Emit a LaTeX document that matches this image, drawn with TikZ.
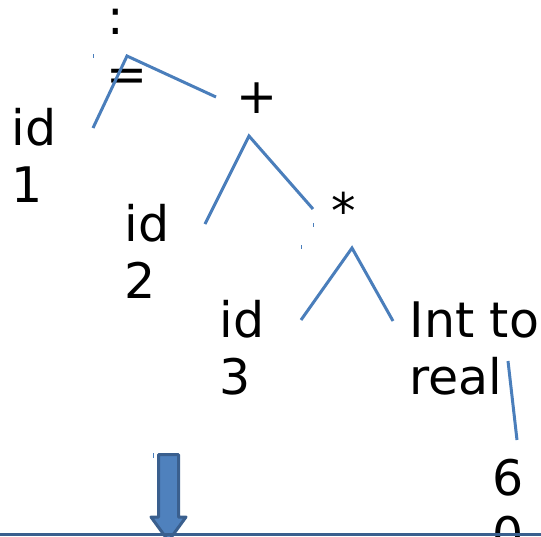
\documentclass[tikz,border=0pt]{standalone}
\usepackage{fontspec}
\setmainfont{DejaVu Sans}
\definecolor{edgeblue}{HTML}{4A7EBB}
\definecolor{arrowfill}{HTML}{4F81BD}
\definecolor{arrowline}{HTML}{3A5F8E}
\begin{document}
\begin{tikzpicture}[x=1pt,y=-1pt,
  txt/.style={anchor=base west, inner sep=0pt, font=\fontsize{49}{57}\selectfont},
  edge/.style={draw=edgeblue, line width=3pt},
  speck/.style={draw=edgeblue, line width=1pt}]
\useasboundingbox (0,0) rectangle (541,536);
\begin{scope}
\clip (0,0) rectangle (541,536);
% texts
\node[txt] (asg1) at (107,34) {:};
\node[txt] (asg2) at (106.5,91) {=};
\node[txt] (plus) at (236.5,113) {+};
\node[txt] (star) at (331.5,228) {*};
\node[txt] (ida) at (11.5,145) {id};
\node[txt] (idb) at (11.5,202) {1};
\node[txt] (idc) at (124.5,241) {id};
\node[txt] (idd) at (124.5,298) {2};
\node[txt] (ide) at (219.5,337) {id};
\node[txt] (idf) at (219.5,394) {3};
\node[txt] (inta) at (409.5,337) {Int to};
\node[txt] (intb) at (409.5,394) {real};
\node[txt] (sixa) at (492,495) {6};
\node[txt] (sixb) at (492,552) {0};
% edges
\coordinate (r0) at (127,56);
\coordinate (r1) at (93,128);
\coordinate (r2) at (216,97);
\coordinate (p0) at (249,136);
\coordinate (p1) at (205,224);
\coordinate (p2) at (313,209);
\coordinate (s0) at (352,248);
\coordinate (s1) at (301,320);
\coordinate (s2) at (393,321);
\coordinate (c0) at (508,361);
\coordinate (c1) at (517,440);
\draw[edge] (r1) -- (r0) -- (r2);
\draw[edge] (p1) -- (p0) -- (p2);
\draw[edge] (s1) -- (s0) -- (s2);
\draw[edge] (c0) -- (c1);
% specks
\coordinate (k1a) at (93.5,54); \coordinate (k1b) at (93.5,58);
\coordinate (k2a) at (313.5,223); \coordinate (k2b) at (313.5,227);
\coordinate (k3a) at (301.5,245); \coordinate (k3b) at (301.5,249);
\coordinate (k4a) at (153.5,453); \coordinate (k4b) at (153.5,458);
\draw[speck] (k1a) -- (k1b);
\draw[speck] (k2a) -- (k2b);
\draw[speck] (k3a) -- (k3b);
\draw[speck] (k4a) -- (k4b);
% down arrow
\draw[fill=arrowfill, draw=arrowline, line width=3pt, line join=round]
  (158.5,454.5) -- (178.5,454.5) -- (178.5,517) -- (186,517) -- (168.5,541)
  -- (151,517) -- (158.5,517) -- cycle;
% bottom line
\coordinate (bl) at (0,534.5);
\coordinate (br) at (541,534.5);
\draw[draw=arrowline, line width=3pt] (bl) -- (br);
\end{scope}
\end{tikzpicture}
\end{document}
